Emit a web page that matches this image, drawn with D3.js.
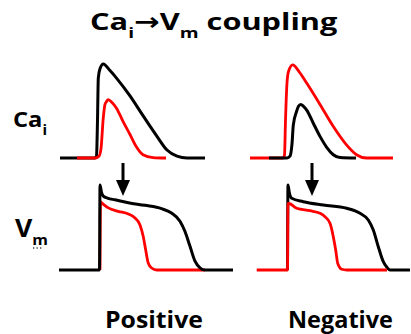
<!DOCTYPE html>
<html>
<head>
<meta charset="utf-8">
<script src="https://cdn.jsdelivr.net/npm/d3@7"></script>
<style>
  body { margin: 0; background: #fff; }
  text { font-family: "Open Sans", "DejaVu Sans", sans-serif; font-weight: bold; fill: #000; }
</style>
</head>
<body>
<div id="chart"></div>
<script>
const width = 411,
  height = 334;

// Ca transients: [time from upstroke (ms), normalized Ca]
const caPosBlack = [[-80, 0], [-10, 0], [-7, 0.02], [-5, 0.4], [-3.4, 0.85], [0, 0.95], [6.6, 1.0], [20, 0.93], [33, 0.85], [60, 0.66], [86, 0.45], [114, 0.23], [134, 0.085], [154, 0.02], [174, 0], [210, 0]];
const caPosRed = [[-46, 0], [-10, 0], [-2, 0.02], [2, 0.1], [6.6, 0.43], [10, 0.57], [13, 0.6], [16.6, 0.62], [24, 0.59], [33, 0.53], [46, 0.39], [60, 0.25], [73, 0.117], [86, 0.035], [106, 0.005], [132, 0]];
const caNegRed = [[-76, 0], [-10, 0], [-7, 0.03], [-5, 0.4], [-2, 0.8], [1, 0.92], [9.4, 0.99], [22, 0.92], [37, 0.8], [64, 0.57], [90, 0.34], [117, 0.14], [137, 0.035], [157, 0], [210, 0]];
const caNegBlack = [[-38, 0], [-2, 0], [4, 0.02], [8, 0.15], [10.6, 0.35], [17.4, 0.5], [21, 0.55], [25.4, 0.57], [31, 0.55], [37.4, 0.51], [50.6, 0.37], [64, 0.23], [77.4, 0.114], [90.6, 0.035], [104, 0.005], [136, 0]];

// Action potentials: [time from upstroke (ms), Vm (mV)]
const vmPosBlack = [[-82, -85], [-1, -85], [0, 30], [3, 20], [6.6, 15], [16, 12], [30, 10], [56.6, 6], [90, 2.5], [123, -2], [143, -8], [160, -19], [170, -33], [180, -53], [190, -73], [200, -82], [210, -85], [266, -85]];
const vmPosRed = [[0, -85], [1, 7], [3.4, 5.7], [16.6, -1], [36.6, -5.6], [56.6, -9.2], [70, -14.6], [80, -24], [86.6, -40], [91.4, -58], [96.6, -76], [103.4, -82.3], [113.4, -85], [210, -85]];
const vmNegBlack = [[-1, -85], [0, 30], [2.5, 20], [7.4, 12], [30.6, 7.4], [70.6, 2.9], [117.4, -1.5], [144, -8.3], [160.6, -17.3], [170.6, -30.9], [180.6, -53.5], [190.6, -73.8], [197.4, -81], [204, -85], [244, -85]];
const vmNegRed = [[-62.6, -85], [-1, -85], [0, 5.2], [2, 5], [17.4, -1.5], [44, -4.8], [64, -8.3], [74, -12.9], [84, -21.8], [90.6, -39.9], [95.4, -57.9], [99.4, -75.9], [107.4, -84], [117.4, -85], [198, -85]];

const columnLabels = ["Positive", "Negative"];
const arrowTimes = [46, 48];

const black = "#000",
  red = "#ff0000";

const svg = d3.select("#chart")
  .append("svg")
  .attr("width", width)
  .attr("height", height);

const xLeft = d3.scaleLinear().domain([-100, 300]).range([50, 250]);
const xRight = d3.scaleLinear().domain([-100, 300]).range([238, 438]);
const yCa = d3.scaleLinear().domain([0, 1]).range([158, 64]);
const yVm = d3.scaleLinear().domain([-85, 30]).range([270, 185]);

const panels = [
  { x: xLeft, y: yCa, traces: [[caPosBlack, black], [caPosRed, red]] },
  { x: xLeft, y: yVm, traces: [[vmPosRed, red], [vmPosBlack, black]] },
  { x: xRight, y: yCa, traces: [[caNegRed, red], [caNegBlack, black]] },
  { x: xRight, y: yVm, traces: [[vmNegBlack, black], [vmNegRed, red]] }
];

panels.forEach(p => {
  const line = d3.line()
    .x(d => p.x(d[0]))
    .y(d => p.y(d[1]))
    .curve(d3.curveMonotoneX);
  p.traces.forEach(([data, color]) => {
    svg.append("path")
      .datum(data)
      .attr("d", line)
      .attr("fill", "none")
      .attr("stroke", color)
      .attr("stroke-width", color === black ? 3 : 2.8)
      .attr("stroke-linejoin", "round");
  });
});

[xLeft, xRight].forEach((x, i) => {
  const ax = x(arrowTimes[i]);
  svg.append("line")
    .attr("x1", ax).attr("x2", ax)
    .attr("y1", 163).attr("y2", 182)
    .attr("stroke", black)
    .attr("stroke-width", 3);
  svg.append("path")
    .attr("d", `M${ax - 7},180 L${ax + 7},180 L${ax},196 Z`)
    .attr("fill", black);
});

function stretchText(parts, x, y, w) {
  const g = svg.append("g");
  const t = g.append("text");
  parts.forEach(p => {
    t.append("tspan")
      .attr("font-size", p.size)
      .attr("dy", p.dy || 0)
      .text(p.text);
  });
  const bw = t.node().getBBox().width;
  g.attr("transform", `translate(${x},${y}) scale(${w / bw},1)`);
  return g;
}

stretchText([
  { text: "Ca", size: 24 },
  { text: "i", size: 15, dy: 8 },
  { text: "→", size: 24, dy: -8 },
  { text: "V", size: 24 },
  { text: "m", size: 15, dy: 8 },
  { text: " coupling", size: 24, dy: -8 }
], 90, 30, 248);

stretchText([
  { text: "Ca", size: 22 },
  { text: "i", size: 14, dy: 8 }
], 13, 127, 34);

stretchText([
  { text: "V", size: 25 },
  { text: "m", size: 15, dy: 8 }
], 15, 237, 33);

svg.append("line")
  .attr("x1", 33).attr("x2", 43)
  .attr("y1", 248).attr("y2", 248)
  .attr("stroke", "#444")
  .attr("stroke-width", 1.3)
  .attr("stroke-dasharray", "1.3,2.2");

stretchText([{ text: columnLabels[0], size: 24 }], 105, 328, 98);
stretchText([{ text: columnLabels[1], size: 24 }], 288, 328, 105);
</script>
</body>
</html>
